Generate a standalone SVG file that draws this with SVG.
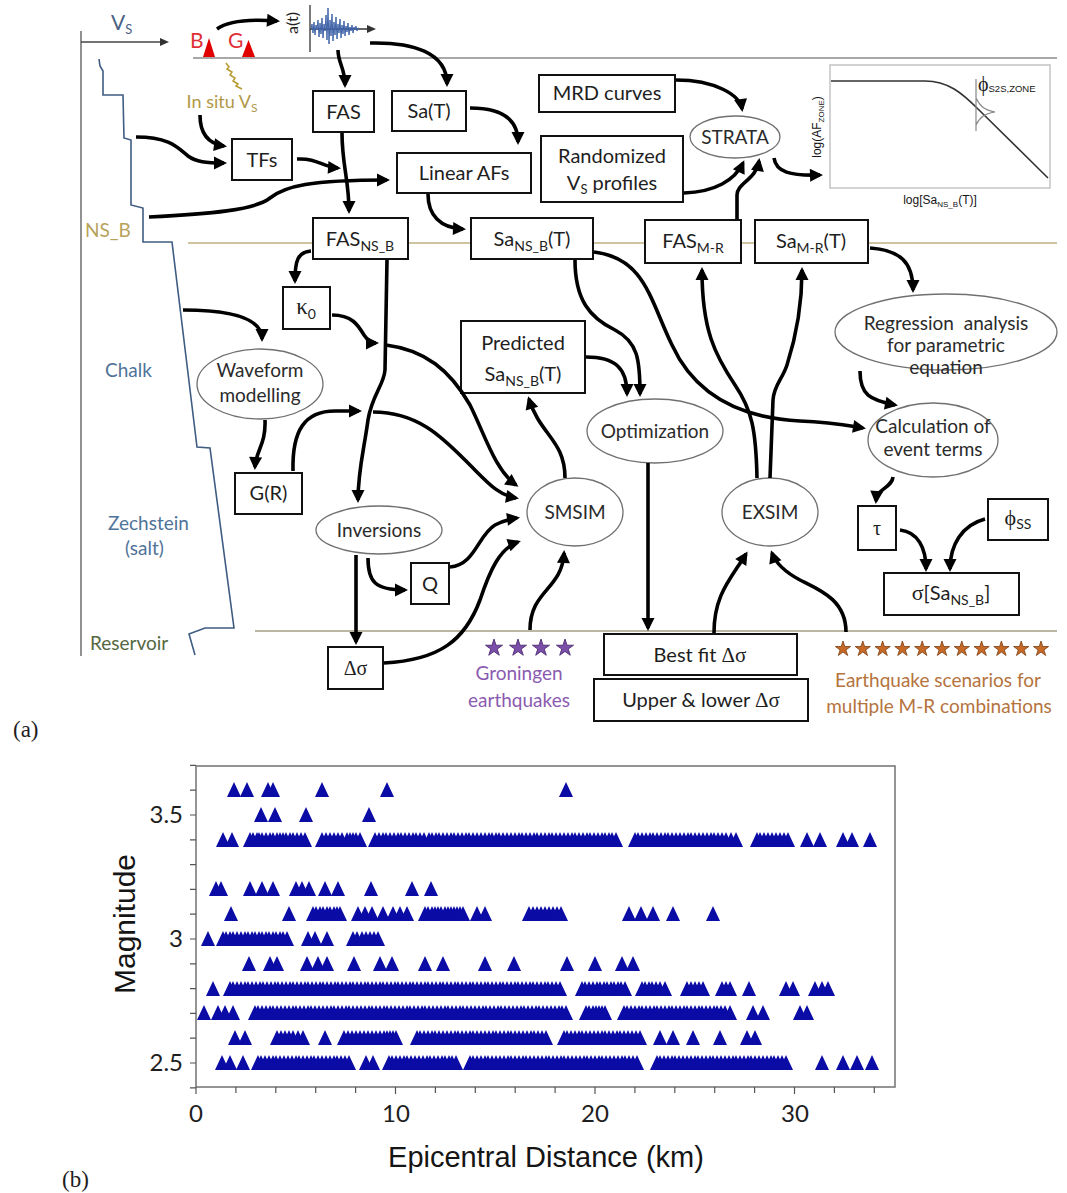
<svg xmlns="http://www.w3.org/2000/svg" width="1067" height="1193" viewBox="0 0 1067 1193">
<defs>
<style>
text{font-family:Lato,"DejaVu Sans",sans-serif;fill:#1e1e1e}
.bx{fill:#fff;stroke:#111;stroke-width:2}
.el{fill:#fff;stroke:#707070;stroke-width:1.3}
.t{font-size:20px;text-anchor:middle}
.te{font-size:19px;text-anchor:middle;fill:#2a2a2a}
.gr{font-family:"Liberation Serif","DejaVu Serif",serif}
.ar{fill:none;stroke:#000;stroke-width:3.6;marker-end:url(#ah)}
.lay{font-size:19px}
.ax{font-family:"Liberation Sans",Arial,sans-serif;fill:#151515}
.row{fill:none;stroke:none;marker-start:url(#tri);marker-mid:url(#tri);marker-end:url(#tri)}
.ostar{fill:#c76a28;stroke:#7a3d12;stroke-width:0.8}
.pstar{fill:#7b4fa8;stroke:#4c2b72;stroke-width:0.8}
</style>
<marker id="ah" markerUnits="userSpaceOnUse" markerWidth="16" markerHeight="14" refX="10" refY="6.5" orient="auto" overflow="visible"><path d="M0,0L13,6.5L0,13z" fill="#000"/></marker>
<marker id="ahs" markerUnits="userSpaceOnUse" markerWidth="10" markerHeight="9" refX="7" refY="4" orient="auto" overflow="visible"><path d="M0,0L9,4L0,8z" fill="#333"/></marker>
<marker id="tri" markerUnits="userSpaceOnUse" markerWidth="16" markerHeight="16" refX="0" refY="0" overflow="visible"><path d="M-7,7L0,-8L7,7z" fill="#0b0ba6"/></marker>
<path id="star" d="M0,-8L1.8,-2.47L7.61,-2.47L2.91,0.94L4.7,6.47L0,3.06L-4.7,6.47L-2.91,0.94L-7.61,-2.47L-1.8,-2.47Z"/>
</defs>
<rect width="1067" height="1193" fill="#fff"/>

<!-- horizon lines -->
<g id="horizons" fill="none" stroke-width="2">
<path d="M193,58H1057" stroke="#a8a8a8"/>
<path d="M188,243H1057" stroke="#cfc3a0"/>
<path d="M255,631H1057" stroke="#bbb5a3"/>
</g>

<!-- velocity profile and layer names -->
<g id="profile">
<path d="M81,31V656" stroke="#6c6c6c" stroke-width="1.5" fill="none"/>
<path d="M81,42H167" stroke="#444" stroke-width="1.5" fill="none" marker-end="url(#ahs)"/>
<text x="111" y="30" font-size="21" style="fill:#4a6282">V<tspan font-size="13" dy="4">S</tspan></text>
<path d="M99,59L100,66L103,71L103,95L123,95L124,138L131,140L131,205L143,208L143,242L172,242L197,447L210,448L234,628L205,628L189,634L195,655" fill="none" stroke="#3f5c82" stroke-width="1.6"/>
<text class="lay" x="85" y="237" style="fill:#b8a25a">NS_B</text>
<text class="lay" x="105" y="377" style="fill:#4f7398">Chalk</text>
<text class="lay" x="108" y="530" style="fill:#4f7398">Zechstein</text>
<text class="lay" x="125" y="555" style="fill:#4f7398">(salt)</text>
<text class="lay" x="90" y="650" style="fill:#55683f">Reservoir</text>
</g>

<!-- stations B and G with in situ measurement -->
<g id="stations">
<text x="190" y="48" font-size="21" style="fill:#df3038">B</text>
<text x="228" y="48" font-size="21" style="fill:#df3038">G</text>
<path d="M203,57L209,38L215,57z M242,57L248.5,40L255,57z" fill="#e00000"/>
<path d="M226,63L229,67L227,69L232,72L230,75L235,78L233,81L238,84L236,86L242,89" fill="none" stroke="#b89b30" stroke-width="1.5"/>
<text x="222" y="108" font-size="18" text-anchor="middle" style="fill:#b09848">In situ V<tspan font-size="12" dy="4">S</tspan></text>
</g>

<!-- recorded acceleration trace -->
<g id="record">
<text transform="translate(298,23) rotate(-90)" font-size="16" text-anchor="middle">a(t)</text>
<path d="M310,5V52" stroke="#333" stroke-width="1.3" fill="none"/>
<path d="M310,29H374" stroke="#333" stroke-width="1.3" fill="none" marker-end="url(#ahs)"/>
<polyline fill="none" stroke="#3e62a8" stroke-width="1" points="311,29 312,24 313,33 314,22 315,35 316,25 317,30 318,20 319,37 320,23 321,34 322,18 323,38 324,24 325,31 326,15 327,40 328,8 329,44 330,20 331,36 332,14 333,41 334,22 335,35 336,17 337,39 338,24 339,33 340,19 341,38 342,25 343,34 344,21 345,36 346,26 347,32 348,23 349,35 350,27 351,31 352,25 353,33 354,27 355,30 356,26 357,31 358,28 360,29"/>
</g>

<!-- nodes -->
<g id="fas"><rect class="bx" x="313" y="91" width="61" height="41"/><text class="t" x="343.5" y="119">FAS</text></g>
<g id="sa-t"><rect class="bx" x="392" y="91" width="74" height="40"/><text class="t" x="429" y="118">Sa(T)</text></g>
<g id="mrd"><rect class="bx" x="539" y="75" width="136" height="37"/><text class="t" x="607" y="100">MRD curves</text></g>
<g id="tfs"><rect class="bx" x="232" y="139" width="60" height="41"/><text class="t" x="262" y="167">TFs</text></g>
<g id="linear-afs"><rect class="bx" x="397" y="153" width="134" height="40"/><text class="t" x="464" y="180">Linear AFs</text></g>
<g id="rand-vs"><rect class="bx" x="541" y="136" width="142" height="66"/><text class="t" x="612" y="163">Randomized</text><text class="t" x="612" y="190">V<tspan font-size="13" dy="4">S</tspan><tspan dy="-4"> profiles</tspan></text></g>
<g id="strata"><ellipse class="el" cx="735" cy="137" rx="45" ry="21"/><text class="te" x="735" y="144">STRATA</text></g>

<g id="af-plot">
<rect x="830" y="65" width="220" height="123" fill="#fff" stroke="#c4c4c4" stroke-width="1.5"/>
<path d="M831,81L925,81C948,81 962,93 978,109L1048,178" fill="none" stroke="#333" stroke-width="1.6"/>
<path d="M976,79V131M976,98C980,106 984,110 995,112C984,114 980,117 976,125" fill="none" stroke="#888" stroke-width="1.2"/>
<text class="gr" x="978" y="91" font-size="20">ϕ<tspan class="ax" font-size="9.5" dy="1">S2S,ZONE</tspan></text>
<text class="ax" transform="translate(821,127) rotate(-90)" font-size="12" text-anchor="middle">log(AF<tspan font-size="8" dy="3">ZONE</tspan><tspan dy="-3">)</tspan></text>
<text class="ax" x="940" y="204" font-size="12" text-anchor="middle">log[Sa<tspan font-size="8" dy="3">NS_B</tspan><tspan dy="-3">(T)]</tspan></text>
</g>

<g id="fas-nsb"><rect class="bx" x="313" y="218" width="95" height="41"/><text class="t" x="360" y="246">FAS<tspan font-size="14" dy="5">NS_B</tspan></text></g>
<g id="sa-nsb"><rect class="bx" x="471" y="218" width="122" height="41"/><text class="t" x="532" y="246">Sa<tspan font-size="14" dy="5">NS_B</tspan><tspan dy="-5">(T)</tspan></text></g>
<g id="fas-mr"><rect class="bx" x="645" y="220" width="96" height="43"/><text class="t" x="693" y="248">FAS<tspan font-size="14" dy="5">M-R</tspan></text></g>
<g id="sa-mr"><rect class="bx" x="755" y="220" width="113" height="43"/><text class="t" x="811" y="248">Sa<tspan font-size="14" dy="5">M-R</tspan><tspan dy="-5">(T)</tspan></text></g>

<g id="kappa0"><rect class="bx" x="283" y="287" width="47" height="42"/><text class="t" x="306" y="314"><tspan class="gr" font-size="23">κ</tspan><tspan font-size="14" dy="5">0</tspan></text></g>
<g id="waveform-modelling"><ellipse class="el" cx="260" cy="384" rx="63" ry="35"/><text class="te" x="260" y="377">Waveform</text><text class="te" x="260" y="402">modelling</text></g>
<g id="g-r"><rect class="bx" x="235" y="473" width="67" height="41"/><text class="t" x="268.5" y="500">G(R)</text></g>
<g id="inversions"><ellipse class="el" cx="379" cy="530" rx="63" ry="24"/><text class="te" x="379" y="537">Inversions</text></g>
<g id="q"><rect class="bx" x="411" y="563" width="38" height="41"/><text class="t" x="430" y="591">Q</text></g>
<g id="dsigma"><rect class="bx" x="328" y="647" width="55" height="42"/><text class="t gr" x="355.5" y="675" font-size="21">Δσ</text></g>
<g id="smsim"><ellipse class="el" cx="575" cy="512" rx="48" ry="34"/><text class="te" x="575" y="519">SMSIM</text></g>
<g id="predicted"><rect class="bx" x="461" y="321" width="124" height="72"/><text class="t" x="523" y="350">Predicted</text><text class="t" x="523" y="381">Sa<tspan font-size="14" dy="5">NS_B</tspan><tspan dy="-5">(T)</tspan></text></g>
<g id="optimization"><ellipse class="el" cx="655" cy="431" rx="68" ry="32"/><text class="te" x="655" y="438">Optimization</text></g>
<g id="exsim"><ellipse class="el" cx="770" cy="512" rx="48" ry="34"/><text class="te" x="770" y="519">EXSIM</text></g>
<g id="best-fit"><rect class="bx" x="604" y="634" width="193" height="41"/><text class="t" x="700" y="662">Best fit <tspan class="gr" font-size="21">Δσ</tspan></text></g>
<g id="upper-lower"><rect class="bx" x="594" y="679" width="214" height="42"/><text class="t" x="701" y="707">Upper &amp; lower <tspan class="gr" font-size="21">Δσ</tspan></text></g>
<g id="regression"><ellipse class="el" cx="946" cy="332" rx="111" ry="38"/><text class="te" x="946" y="330" word-spacing="5">Regression analysis</text><text class="te" x="946" y="352">for parametric</text><text class="te" x="946" y="374">equation</text></g>
<g id="event-terms"><ellipse class="el" cx="933" cy="440" rx="65" ry="37"/><text class="te" x="933" y="433" font-size="17.5">Calculation of</text><text class="te" x="933" y="456" font-size="17.5">event terms</text></g>
<g id="tau"><rect class="bx" x="858" y="506" width="38" height="44"/><text class="t gr" x="877" y="535" font-size="23">τ</text></g>
<g id="phi-ss"><rect class="bx" x="988" y="499" width="60" height="41"/><text class="t" x="1018" y="525"><tspan class="gr" font-size="22">ϕ</tspan><tspan font-size="14" dy="4">SS</tspan></text></g>
<g id="sigma-sa"><rect class="bx" x="884" y="573" width="135" height="42"/><text class="t" x="951" y="600"><tspan class="gr" font-size="22">σ</tspan>[Sa<tspan font-size="14" dy="5">NS_B</tspan><tspan dy="-5">]</tspan></text></g>

<g id="groningen-events">
<use href="#star" class="pstar" transform="translate(494,648) scale(1.12)"/>
<use href="#star" class="pstar" transform="translate(518,648) scale(1.12)"/>
<use href="#star" class="pstar" transform="translate(541,648) scale(1.12)"/>
<use href="#star" class="pstar" transform="translate(565,648) scale(1.12)"/>
<text x="519" y="680" font-size="19" text-anchor="middle" style="fill:#8a5bb0">Groningen</text>
<text x="519" y="707" font-size="19" text-anchor="middle" style="fill:#8a5bb0">earthquakes</text>
</g>
<g id="scenarios">
<use href="#star" class="ostar" x="843" y="649"/>
<use href="#star" class="ostar" x="862.8" y="649"/>
<use href="#star" class="ostar" x="882.6" y="649"/>
<use href="#star" class="ostar" x="902.4" y="649"/>
<use href="#star" class="ostar" x="922.2" y="649"/>
<use href="#star" class="ostar" x="942" y="649"/>
<use href="#star" class="ostar" x="961.8" y="649"/>
<use href="#star" class="ostar" x="981.6" y="649"/>
<use href="#star" class="ostar" x="1001.4" y="649"/>
<use href="#star" class="ostar" x="1021.2" y="649"/>
<use href="#star" class="ostar" x="1041" y="649"/>
<text x="938" y="687" font-size="19" text-anchor="middle" style="fill:#b5733d">Earthquake scenarios for</text>
<text x="939" y="713" font-size="19" text-anchor="middle" style="fill:#b5733d">multiple M-R combinations</text>
</g>

<!-- connectors -->
<g id="connectors">
<path class="ar" d="M217,29C228,21 250,19 277,21"/>
<path class="ar" d="M338,50C338,63 345,68 345,85"/>
<path class="ar" d="M370,43C412,42 447,52 447,84"/>
<path class="ar" d="M470,108C500,108 518,118 518,142"/>
<path class="ar" d="M200,115C200,135 210,144 224,146"/>
<path class="ar" d="M136,137C170,137 178,148 188,156C196,162 206,163 224,163"/>
<path class="ar" d="M297,159C318,158 322,167 338,168"/>
<path class="ar" d="M149,217C210,214 255,210 270,198C285,186 310,180 387,180"/>
<path class="ar" d="M342,133C342,165 349,180 349,211"/>
<path class="ar" d="M428,194C428,215 440,228 463,229"/>
<path class="ar" d="M676,80C715,80 740,95 742,109"/>
<path class="ar" d="M684,193C715,192 735,180 743,163"/>
<path class="ar" d="M737,219L737,195C737,183 756,180 759,161"/>
<path class="ar" d="M774,158C776,172 790,176 820,175"/>
<path class="ar" d="M311,251C298,252 295,260 295,281"/>
<path class="ar" d="M387,260L385,370C384,385 372,395 368,420C364,450 358,470 358,500"/>
<path class="ar" d="M332,315C352,315 358,325 364,335C368,341 371,343 376,343"/>
<path class="ar" d="M386,345C425,350 450,370 470,405C485,435 495,470 516,485"/>
<path class="ar" d="M293,471C292,430 305,411 335,411L359,411"/>
<path class="ar" d="M373,412C420,412 445,440 470,465C488,483 498,495 516,498"/>
<path class="ar" d="M265,420C266,445 256,450 255,467"/>
<path class="ar" d="M183,310C230,310 262,318 262,339"/>
<path class="ar" d="M356,555L356,642"/>
<path class="ar" d="M368,558C368,582 375,590 405,590"/>
<path class="ar" d="M450,567C475,565 478,535 495,525C503,521 510,519 517,518"/>
<path class="ar" d="M384,663C440,660 465,640 480,600C490,570 500,548 518,542"/>
<path class="ar" d="M530,630C530,590 562,590 564,553"/>
<path class="ar" d="M565,478C565,440 540,435 529,399"/>
<path class="ar" d="M586,357C615,357 627,368 627,394"/>
<path class="ar" d="M575,260C575,300 590,318 615,330C638,342 640,360 640,394"/>
<path class="ar" d="M594,252C645,258 650,300 672,345C695,395 740,418 800,421C830,422 845,425 863,428"/>
<path class="ar" d="M648,463L648,628"/>
<path class="ar" d="M714,633C714,595 730,580 746,554"/>
<path class="ar" d="M846,632C846,600 820,590 800,580C785,572 776,564 772,553"/>
<path class="ar" d="M757,478C756,430 752,410 735,385C715,355 702,330 702,270"/>
<path class="ar" d="M770,478L773,400C774,385 782,380 787,365C795,340 802,310 802,270"/>
<path class="ar" d="M870,248C900,250 913,262 913,290"/>
<path class="ar" d="M860,371C860,395 870,400 895,405"/>
<path class="ar" d="M893,477C892,488 877,488 876,501"/>
<path class="ar" d="M900,530C918,532 926,548 926,569"/>
<path class="ar" d="M985,519C962,525 950,545 950,569"/>
</g>

<text x="13" y="737" font-size="23" style="font-family:'Liberation Serif','DejaVu Serif',serif">(a)</text>

<!-- magnitude-distance scatter -->
<g id="scatter-plot">
<rect x="196" y="766" width="699" height="321" fill="#fff" stroke="#7a7a7a" stroke-width="1.6"/>
<path d="M196,1087v7M235.9,1087v6M275.8,1087v6M315.7,1087v6M355.6,1087v6M395.5,1087v7M435.4,1087v6M475.3,1087v6M515.2,1087v6M555.1,1087v6M595,1087v7M634.9,1087v6M674.8,1087v6M714.7,1087v6M754.6,1087v6M794.5,1087v7M834.4,1087v6M874.3,1087v6M190,1087.8h6M190,1063h6M190,1038.2h6M190,1013.4h6M190,988.6h6M190,963.8h6M190,939h6M190,914.2h6M190,889.4h6M190,864.6h6M190,839.8h6M190,815h6M190,790.2h6M190,765.4h6" stroke="#555" stroke-width="1.2" fill="none"/>
<g class="ax" font-size="24">
<text x="183" y="823" text-anchor="end">3.5</text>
<text x="183" y="947" text-anchor="end">3</text>
<text x="183" y="1071" text-anchor="end">2.5</text>
<text x="196" y="1122" text-anchor="middle">0</text>
<text x="396" y="1122" text-anchor="middle">10</text>
<text x="595" y="1122" text-anchor="middle">20</text>
<text x="795" y="1122" text-anchor="middle">30</text>
</g>
<text class="ax" x="546" y="1167" font-size="29" text-anchor="middle">Epicentral Distance (km)</text>
<text class="ax" transform="translate(135,924) rotate(-90)" font-size="30" text-anchor="middle">Magnitude</text>
<g id="events">
<path class="row" d="M234 790h13 21 5 49 65 179"/>
<path class="row" d="M261 815h14 31 63"/>
<path class="row" d="M223 840h9 18 3 4 2 3 4 4 3 4 3 3 3 4 3 4 4 4 17 4 4 4 4 4 5 3 3 3 4 15 4 4 3 4 4 4 3 4 4 4 3 4 4 5 3 4 3 4 4 4 3 4 4 4 3 4 4 4 4 4 3 4 3 4 4 4 4 4 3 4 4 4 3 4 4 4 3 4 4 4 4 4 3 4 4 4 3 4 4 4 3 4 3 4 19 3 4 4 4 3 4 4 4 3 4 4 4 4 4 3 4 4 4 4 4 3 4 4 4 5 5 21 3 4 4 4 4 4 4 4 19 13 23 9 18"/>
<path class="row" d="M216 889h5 29 12 11 23 6 7 16 13 33 41 19"/>
<path class="row" d="M231 914h58 24 3 4 3 4 3 4 3 3 18 7 7 11 10 7 7 18 3 4 3 3 3 4 3 3 3 3 3 3 14 8 44 4 4 4 4 4 4 4 4 68 12 12 20 40"/>
<path class="row" d="M208 939h15 3 4 3 4 4 4 3 4 3 4 3 4 3 4 3 4 3 4 21 7 12 26 4 5 4 4 4 4"/>
<path class="row" d="M249 964h21 7 30 11 9 27 26 12 33 18 42 29 53 28 27 11"/>
<path class="row" d="M213 989h17 3 4 4 4 3 4 4 4 3 4 4 4 3 4 4 4 3 4 4 4 3 4 4 4 3 4 4 4 3 4 4 4 3 4 4 4 3 4 4 4 3 4 4 4 3 4 4 4 3 4 4 4 3 4 4 4 3 4 4 4 3 4 4 4 3 4 4 4 3 4 4 4 3 4 4 4 3 4 4 4 3 4 4 4 3 4 4 4 22 3 4 4 4 3 4 3 4 3 4 3 4 17 3 4 3 4 4 5 22 4 4 4 4 19 4 4 19 37 7 22 7 6"/>
<path class="row" d="M204 1013h14 7 8 22 3 4 4 4 3 4 4 4 4 4 3 4 4 4 3 4 4 4 4 4 3 4 4 4 3 4 4 4 4 4 3 4 4 4 3 4 4 4 4 4 3 4 4 4 3 4 4 4 4 4 3 4 4 4 3 4 4 4 4 4 3 4 4 4 3 4 4 4 4 4 3 4 4 4 3 4 4 4 4 4 3 4 20 3 4 3 3 3 3 19 3 4 4 4 3 4 4 4 3 4 4 4 3 4 4 4 3 4 4 4 3 4 4 4 3 4 4 5 23 10 37 7"/>
<path class="row" d="M235 1038h10 32 4 4 4 4 5 5 22 19 4 4 4 4 4 4 4 4 4 4 3 3 3 3 21 3 4 4 4 3 4 4 4 4 4 3 4 4 4 3 4 4 4 4 4 3 4 4 4 3 4 4 4 4 4 3 4 4 4 18 3 4 4 4 3 4 4 4 4 4 3 4 4 4 3 4 4 4 4 4 20 13 20 27 27 8"/>
<path class="row" d="M222 1063h8 13 15 3 4 4 4 3 4 4 4 4 4 3 4 4 4 3 4 4 4 4 4 3 4 4 4 17 7 16 3 4 4 4 3 4 4 4 4 4 3 4 4 4 3 4 3 4 14 3 4 4 4 3 4 4 4 4 4 3 4 4 4 3 4 4 4 4 4 3 4 4 4 3 4 4 4 4 4 3 4 4 4 3 4 4 4 4 4 3 4 4 4 20 3 4 4 4 3 4 4 4 4 4 3 4 4 4 3 4 4 4 4 4 3 4 4 4 3 4 4 4 4 4 3 4 4 4 36 21 14 15"/>
</g>
</g>
<text x="62" y="1187" font-size="23" style="font-family:'Liberation Serif','DejaVu Serif',serif">(b)</text>
</svg>
